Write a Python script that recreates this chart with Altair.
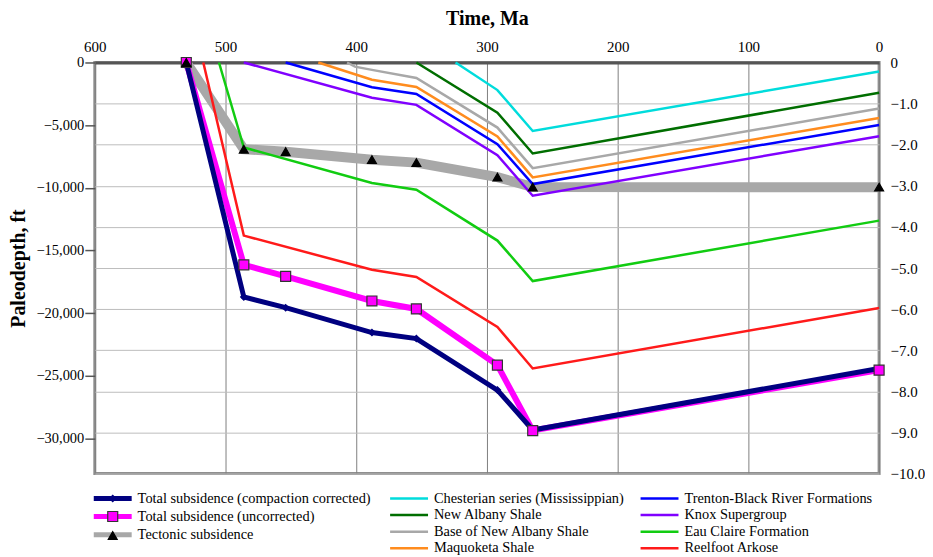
import altair as alt
import pandas as pd

SERIF = "Liberation Serif"

# ---- series names ----
S_CORR = "Total subsidence (compaction corrected)"
S_UNC = "Total subsidence (uncorrected)"
S_TECT = "Tectonic subsidence"
H_CHES = "Chesterian series (Mississippian)"
H_NAS = "New Albany Shale"
H_BNAS = "Base of New Albany Shale"
H_MAQ = "Maquoketa Shale"
H_TBR = "Trenton-Black River Formations"
H_KNOX = "Knox Supergroup"
H_EAU = "Eau Claire Formation"
H_REEL = "Reelfoot Arkose"

# ---- data (age in Ma, paleodepth in ft) ----
total_ages = [530, 486, 454, 388, 354, 292, 265, 0]
corrected_ft = [0, -18715, -19566, -21554, -22031, -26143, -29325, -24420]
uncorrected_ft = [0, -16146, -17076, -19033, -19669, -24155, -29373, -24555]
tectonic_ft = [0, -6920, -7118, -7755, -7993, -9147, -9945, -9950]

ches_ages = [324, 292, 265, 0]
ches_ft = [0, -2203, -5464, -716]
nas_ages = [354, 292, 265, 0]
nas_ft = [0, -4000, -7262, -2410]
bnas_ages = [407, 401, 388, 354, 292, 265, 0]
bnas_ft = [0, -330, -590, -1240, -5194, -8431, -3675]
maq_ages = [429, 388, 354, 292, 265, 0]
maq_ft = [0, -1380, -1950, -5909, -9170, -4430]
tbr_ages = [454, 388, 354, 292, 265, 0]
tbr_ft = [0, -1970, -2520, -6522, -9703, -4987]
knox_ages = [486, 388, 354, 292, 265, 0]
knox_ft = [0, -2820, -3380, -7397, -10634, -5886]
eau_ages = [505, 486, 388, 354, 292, 265, 0]
eau_ft = [0, -6784, -9624, -10157, -14213, -17442, -12622]
reel_ages = [517, 486, 388, 354, 292, 265, 0]
reel_ft = [0, -13815, -16543, -17124, -21101, -24417, -19590]

x_ticks = [600, 500, 400, 300, 200, 100, 0]
ft_ticks = [0, -5000, -10000, -15000, -20000, -25000, -30000]
km_ticks = [0, -1, -2, -3, -4, -5, -6, -7, -8, -9, -10]

# ---- legend columns & styles ----
col1 = [S_CORR, S_UNC, S_TECT]
col2 = [H_CHES, H_NAS, H_BNAS, H_MAQ]
col3 = [H_TBR, H_KNOX, H_EAU, H_REEL]
mk_keys = [n + " (markers)" for n in col1]   # separate domain for the marker overlay legend
colors = {
    S_CORR: "#000080", S_UNC: "#FF00FF", S_TECT: "#A8A8A8",
    H_CHES: "#00DCDC", H_NAS: "#006E00", H_BNAS: "#A8A8A8", H_MAQ: "#FF8C1E",
    H_TBR: "#0000FF", H_KNOX: "#8000FF", H_EAU: "#11CC11", H_REEL: "#FF1A1A",
}
HOR_W = 2.5

series_data = [
    (S_TECT, total_ages, tectonic_ft),
    (H_CHES, ches_ages, ches_ft), (H_NAS, nas_ages, nas_ft),
    (H_BNAS, bnas_ages, bnas_ft), (H_MAQ, maq_ages, maq_ft),
    (H_TBR, tbr_ages, tbr_ft), (H_KNOX, knox_ages, knox_ft),
    (H_EAU, eau_ages, eau_ft), (H_REEL, reel_ages, reel_ft),
    (S_UNC, total_ages, uncorrected_ft),
    (S_CORR, total_ages, corrected_ft),
]
rows = []
for name, ages, depths in series_data:
    for a, d in zip(ages, depths):
        rows.append({"series": name, "age": a, "depth": d})
lines_df = pd.DataFrame(rows)

mk_rows = []
for key, depths in zip(mk_keys, [corrected_ft, uncorrected_ft, tectonic_ft]):
    for a, d in zip(total_ages, depths):
        mk_rows.append({"marker": key, "age": a, "depth": d})
mk_df = pd.DataFrame(mk_rows)

FONT_L = 14.4
LEG_Y = 429.8
SYM_PATH = "M-10,0H10"


def make_legend(x, **kw):
    opts = dict(title=None, orient="none", legendX=x, legendY=LEG_Y,
                symbolType=SYM_PATH, symbolSize=14.44, symbolOffset=11.75,
                labelOffset=17.75, labelFont=SERIF, labelFontSize=FONT_L,
                labelColor="black", labelLimit=400, rowPadding=1.6)
    opts.update(kw)
    return alt.Legend(**opts)


x_enc = alt.X(
    "age:Q",
    scale=alt.Scale(domain=[600, 0], nice=False, zero=False),
    axis=alt.Axis(orient="top", values=x_ticks, title="Time, Ma", grid=True,
                  gridColor="#808080", gridWidth=1, ticks=False, tickSize=0,
                  domain=True, domainColor="#555555", domainWidth=3,
                  labelFlush=False, labelPadding=8, labelFont=SERIF,
                  labelFontSize=15, labelColor="black", titleFont=SERIF,
                  titleFontSize=20, titleFontWeight="bold", titleColor="black",
                  titlePadding=11),
)
y_enc = alt.Y(
    "depth:Q",
    scale=alt.Scale(domain=[-32808, 0], nice=False, zero=False),
    axis=alt.Axis(orient="left", values=ft_ticks, format=",.0f", title="Paleodepth, ft",
                  grid=False, domain=False, ticks=True, tickSize=10,
                  tickColor="#555555", tickWidth=1.5, labelPadding=1,
                  labelFont=SERIF, labelFontSize=14.5, labelColor="black",
                  titleFont=SERIF, titleFontSize=20, titleFontWeight="bold",
                  titleColor="black", titlePadding=7),
)

base = alt.Chart(lines_df)


def filt(names):
    return base.transform_filter(alt.FieldOneOfPredicate(field="series", oneOf=names))


# column 1: total / tectonic subsidence; the legend for the column comes from the
# colour scale of the corrected-subsidence layer
c1_scale = alt.Scale(domain=col1, range=[colors[n] for n in col1])
leg1 = make_legend(-1, zindex=1, symbolStrokeWidth=5, rowPadding=-2.9)

tect_layer = filt([S_TECT]).mark_line(strokeWidth=10, strokeJoin="miter",
                                      color=colors[S_TECT]).encode(x=x_enc, y=y_enc)
unc_layer = filt([S_UNC]).mark_line(strokeWidth=6, strokeJoin="miter",
                                    color=colors[S_UNC]).encode(x=x_enc, y=y_enc)
corr_layer = filt([S_CORR]).mark_line(strokeWidth=5, strokeJoin="miter").encode(
    x=x_enc, y=y_enc, color=alt.Color("series:N", scale=c1_scale, legend=leg1))

col2_layer = filt(col2).mark_line(strokeWidth=HOR_W).encode(
    x=x_enc, y=y_enc,
    color=alt.Color("series:N", scale=alt.Scale(domain=col2, range=[colors[n] for n in col2]),
                    legend=make_legend(296, symbolStrokeWidth=HOR_W)))
col3_layer = filt(col3).mark_line(strokeWidth=HOR_W).encode(
    x=x_enc, y=y_enc,
    color=alt.Color("series:N", scale=alt.Scale(domain=col3, range=[colors[n] for n in col3]),
                    legend=make_legend(547, symbolStrokeWidth=HOR_W)))

# markers (and their overlay legend on top of column 1's line symbols)
legB = alt.Legend(title=None, orient="none", legendX=-1, legendY=LEG_Y,
                  symbolOffset=11.75, labelOffset=17.75, labelFont=SERIF,
                  labelFontSize=FONT_L, labelOpacity=0, labelLimit=400,
                  rowPadding=3.0, symbolStrokeWidth=1.2, zindex=2)
markers = alt.Chart(mk_df).mark_point(filled=True, opacity=1, strokeWidth=1.2).encode(
    x=x_enc, y=y_enc,
    shape=alt.Shape("marker:N", scale=alt.Scale(domain=mk_keys,
                    range=["diamond", "square", "triangle-up"]), legend=legB),
    fill=alt.Fill("marker:N", scale=alt.Scale(domain=mk_keys,
                  range=["#000080", "#FF00FF", "#000000"]), legend=legB),
    stroke=alt.Stroke("marker:N", scale=alt.Scale(domain=mk_keys,
                      range=["#000080", "#333333", "#000000"]), legend=legB),
    size=alt.Size("marker:N", scale=alt.Scale(type="ordinal", domain=mk_keys,
                  range=[40, 100, 80]), legend=legB),
)

right = alt.Chart(mk_df).transform_calculate(km="datum.depth / 3280.84").mark_point(
    opacity=0
).encode(
    x=x_enc,
    y=alt.Y("km:Q", scale=alt.Scale(domain=[-10, 0], nice=False, zero=False),
            axis=alt.Axis(orient="right", values=km_ticks, title=None, grid=True,
                          gridColor="#bdbdbd", gridWidth=1, domain=False, ticks=False,
                          tickSize=0, labelPadding=11,
                          labelExpr="datum.value == 0 ? '0' : format(datum.value, '.1f')",
                          labelFont=SERIF, labelFontSize=15, labelColor="black")),
)

inner = alt.layer(tect_layer, col2_layer, col3_layer, unc_layer, corr_layer,
                  markers).resolve_scale(color="independent")
chart = alt.layer(inner, right).resolve_scale(y="independent").properties(
    width=786, height=412, padding=0
).configure_view(stroke="#8f8f8f", strokeWidth=3)

chart.save("out.html", embed_options={"renderer": "svg", "actions": False})
